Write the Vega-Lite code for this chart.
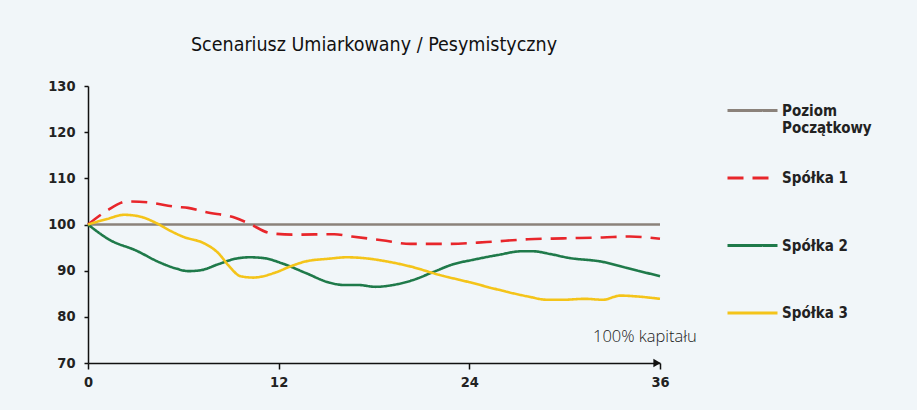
{
  "$schema": "https://vega.github.io/schema/vega-lite/v6.json",
  "width": 572,
  "height": 277,
  "autosize": "none",
  "padding": {"left": 88, "top": 86, "right": 257, "bottom": 47},
  "background": "#f1f6f9",
  "title": {
    "text": "Scenariusz Umiarkowany / Pesymistyczny",
    "anchor": "middle",
    "font": "DejaVu Sans Condensed, DejaVu Sans",
    "fontSize": 19.5,
    "fontWeight": "normal",
    "color": "#111111",
    "offset": 23
  },
  "config": {
    "view": {"stroke": null},
    "axis": {
      "grid": false,
      "domainColor": "#111111",
      "domainWidth": 1.5,
      "tickColor": "#111111",
      "tickWidth": 1.5,
      "labelFont": "DejaVu Sans Condensed, DejaVu Sans",
      "labelFontWeight": "bold",
      "labelFontSize": 14.5,
      "labelColor": "#222222",
      "title": null
    },
    "legend": {
      "orient": "none",
      "legendX": 638,
      "legendY": -2,
      "padding": 0,
      "title": null,
      "symbolType": "stroke",
      "symbolSize": 2500,
      "symbolStrokeWidth": 3,
      "labelFont": "DejaVu Sans Condensed, DejaVu Sans",
      "labelFontWeight": "bold",
      "labelFontSize": 15,
      "labelColor": "#222222",
      "labelOffset": 3,
      "rowPadding": 15.5,
      "labelLimit": 200
    }
  },
  "layer": [
    {
      "data": {
        "values": [
          {"series": "Poziom Początkowy", "m": 0, "v": 100},
          {"series": "Poziom Początkowy", "m": 36, "v": 100},
          {"series": "Spółka 1", "m": 0, "v": 100},
          {"series": "Spółka 1", "m": 1.2, "v": 103},
          {"series": "Spółka 1", "m": 2.5, "v": 105},
          {"series": "Spółka 1", "m": 3.75, "v": 104.8},
          {"series": "Spółka 1", "m": 5.6, "v": 103.8},
          {"series": "Spółka 1", "m": 6.3, "v": 103.6},
          {"series": "Spółka 1", "m": 7.4, "v": 102.7},
          {"series": "Spółka 1", "m": 9.3, "v": 101.4},
          {"series": "Spółka 1", "m": 10.2, "v": 100.1},
          {"series": "Spółka 1", "m": 11.5, "v": 98.1},
          {"series": "Spółka 1", "m": 12.9, "v": 97.8},
          {"series": "Spółka 1", "m": 15.5, "v": 97.9},
          {"series": "Spółka 1", "m": 16.6, "v": 97.4},
          {"series": "Spółka 1", "m": 18.5, "v": 96.6},
          {"series": "Spółka 1", "m": 20.3, "v": 95.8},
          {"series": "Spółka 1", "m": 22.5, "v": 95.8},
          {"series": "Spółka 1", "m": 25.1, "v": 96.2},
          {"series": "Spółka 1", "m": 27.7, "v": 96.8},
          {"series": "Spółka 1", "m": 29.9, "v": 97.0},
          {"series": "Spółka 1", "m": 32.4, "v": 97.2},
          {"series": "Spółka 1", "m": 34.1, "v": 97.4},
          {"series": "Spółka 1", "m": 36, "v": 96.9},
          {"series": "Spółka 2", "m": 0, "v": 100},
          {"series": "Spółka 2", "m": 1.4, "v": 96.6},
          {"series": "Spółka 2", "m": 3.0, "v": 94.4},
          {"series": "Spółka 2", "m": 4.5, "v": 91.8},
          {"series": "Spółka 2", "m": 5.6, "v": 90.4},
          {"series": "Spółka 2", "m": 6.3, "v": 89.9},
          {"series": "Spółka 2", "m": 7.1, "v": 90.1},
          {"series": "Spółka 2", "m": 8.2, "v": 91.4},
          {"series": "Spółka 2", "m": 9.3, "v": 92.6},
          {"series": "Spółka 2", "m": 10.2, "v": 92.9},
          {"series": "Spółka 2", "m": 11.1, "v": 92.7},
          {"series": "Spółka 2", "m": 12.2, "v": 91.6},
          {"series": "Spółka 2", "m": 13.7, "v": 89.5},
          {"series": "Spółka 2", "m": 15.2, "v": 87.4},
          {"series": "Spółka 2", "m": 16.1, "v": 86.9},
          {"series": "Spółka 2", "m": 17.0, "v": 86.9},
          {"series": "Spółka 2", "m": 18.1, "v": 86.5},
          {"series": "Spółka 2", "m": 19.2, "v": 86.9},
          {"series": "Spółka 2", "m": 20.3, "v": 87.8},
          {"series": "Spółka 2", "m": 21.8, "v": 89.8},
          {"series": "Spółka 2", "m": 22.9, "v": 91.3},
          {"series": "Spółka 2", "m": 24.3, "v": 92.4},
          {"series": "Spółka 2", "m": 25.8, "v": 93.4},
          {"series": "Spółka 2", "m": 27.3, "v": 94.2},
          {"series": "Spółka 2", "m": 28.0, "v": 94.2},
          {"series": "Spółka 2", "m": 29.1, "v": 93.6},
          {"series": "Spółka 2", "m": 30.2, "v": 92.8},
          {"series": "Spółka 2", "m": 32.4, "v": 91.9},
          {"series": "Spółka 2", "m": 33.9, "v": 90.6},
          {"series": "Spółka 2", "m": 36, "v": 88.8},
          {"series": "Spółka 3", "m": 0, "v": 100},
          {"series": "Spółka 3", "m": 1.2, "v": 101.2},
          {"series": "Spółka 3", "m": 2.3, "v": 102.1},
          {"series": "Spółka 3", "m": 3.4, "v": 101.6},
          {"series": "Spółka 3", "m": 4.3, "v": 100.3},
          {"series": "Spółka 3", "m": 5.2, "v": 98.6},
          {"series": "Spółka 3", "m": 6.1, "v": 97.2},
          {"series": "Spółka 3", "m": 7.2, "v": 96.1},
          {"series": "Spółka 3", "m": 8.2, "v": 93.8},
          {"series": "Spółka 3", "m": 8.9, "v": 90.9},
          {"series": "Spółka 3", "m": 9.6, "v": 88.8},
          {"series": "Spółka 3", "m": 10.4, "v": 88.5},
          {"series": "Spółka 3", "m": 11.8, "v": 89.6},
          {"series": "Spółka 3", "m": 12.8, "v": 91.0},
          {"series": "Spółka 3", "m": 13.7, "v": 92.0},
          {"series": "Spółka 3", "m": 15.2, "v": 92.6},
          {"series": "Spółka 3", "m": 16.3, "v": 92.9},
          {"series": "Spółka 3", "m": 17.4, "v": 92.7},
          {"series": "Spółka 3", "m": 18.8, "v": 92.0},
          {"series": "Spółka 3", "m": 20.3, "v": 90.9},
          {"series": "Spółka 3", "m": 22.1, "v": 89.1},
          {"series": "Spółka 3", "m": 24.0, "v": 87.5},
          {"series": "Spółka 3", "m": 25.8, "v": 85.9},
          {"series": "Spółka 3", "m": 27.7, "v": 84.4},
          {"series": "Spółka 3", "m": 28.9, "v": 83.7},
          {"series": "Spółka 3", "m": 29.9, "v": 83.7},
          {"series": "Spółka 3", "m": 31.3, "v": 83.9},
          {"series": "Spółka 3", "m": 32.4, "v": 83.7},
          {"series": "Spółka 3", "m": 33.5, "v": 84.6},
          {"series": "Spółka 3", "m": 34.6, "v": 84.4},
          {"series": "Spółka 3", "m": 36, "v": 83.9}
        ]
      },
      "mark": {"type": "line", "interpolate": "monotone", "strokeWidth": 2.6},
      "encoding": {
        "x": {
          "field": "m", "type": "quantitative",
          "scale": {"domain": [0, 36], "nice": false, "zero": false},
          "axis": {"values": [0, 12, 24, 36], "tickSize": 6, "labelPadding": 6, "labelFlush": false}
        },
        "y": {
          "field": "v", "type": "quantitative",
          "scale": {"domain": [70, 130], "nice": false, "zero": false},
          "axis": {"values": [70, 80, 90, 100, 110, 120, 130], "tickSize": 4, "labelPadding": 9}
        },
        "color": {
          "field": "series", "type": "nominal",
          "scale": {
            "domain": ["Poziom Początkowy", "Spółka 1", "Spółka 2", "Spółka 3"],
            "range": ["#8b827b", "#e8262b", "#1f7a4a", "#f4c41a"]
          },
          "legend": {"labelExpr": "datum.label == 'Poziom Początkowy' ? ['Poziom', 'Początkowy'] : [datum.label, '']"}
        },
        "strokeDash": {
          "field": "series", "type": "nominal",
          "scale": {
            "domain": ["Poziom Początkowy", "Spółka 1", "Spółka 2", "Spółka 3"],
            "range": [[1, 0], [16, 9], [1, 0], [1, 0]]
          },
          "legend": {"labelExpr": "datum.label == 'Poziom Początkowy' ? ['Poziom', 'Początkowy'] : [datum.label, '']"}
        }
      }
    },
    {
      "data": {"values": [{"m": 36, "v": 70}]},
      "mark": {"type": "point", "shape": "triangle-right", "filled": true, "color": "#111111", "size": 70, "opacity": 1, "xOffset": -3},
      "encoding": {
        "x": {"field": "m", "type": "quantitative"},
        "y": {"field": "v", "type": "quantitative"}
      }
    },
    {
      "data": {"values": [{"m": 35.05, "v": 75.6, "label": "100% kapitału"}]},
      "mark": {"type": "text", "font": "Open Sans", "fontSize": 16.5, "fontWeight": 300, "color": "#222222", "align": "center", "baseline": "middle"},
      "encoding": {
        "x": {"field": "m", "type": "quantitative"},
        "y": {"field": "v", "type": "quantitative"},
        "text": {"field": "label"}
      }
    }
  ]
}
